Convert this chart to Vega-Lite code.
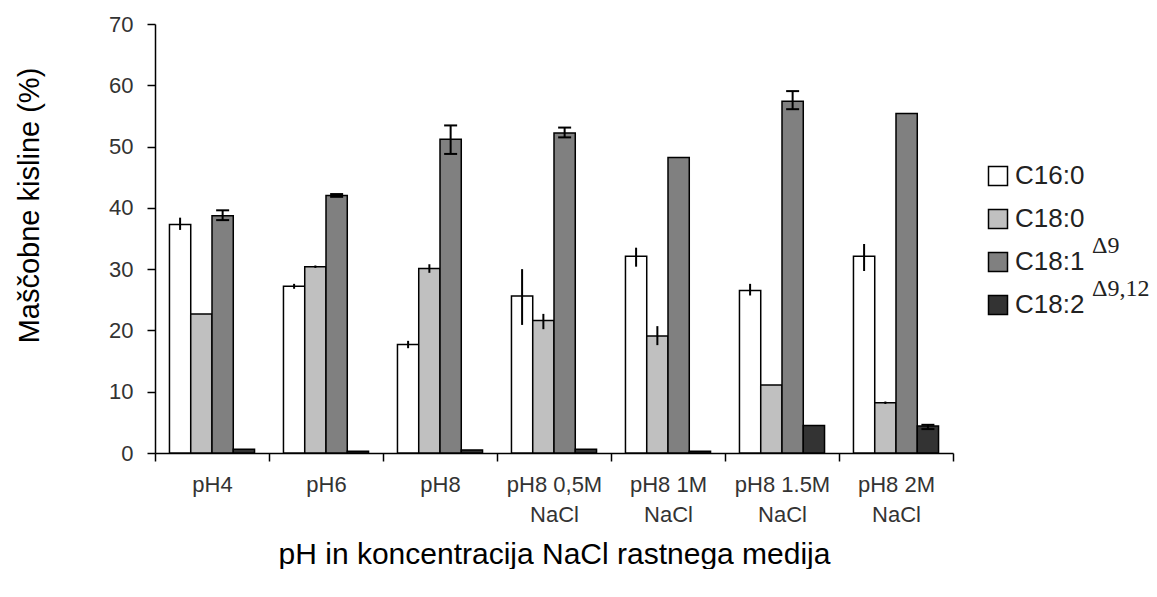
{
  "$schema": "https://vega.github.io/schema/vega-lite/v6.json",
  "padding": {"left": 14, "top": 13, "right": 0, "bottom": 0},
  "background": "white",
  "config": {"view": {"stroke": null}, "font": "Liberation Sans"},
  "datasets": {
    "fa": [
      {"cond": "pH4", "series": "C16:0", "value": 37.3, "lo": 36.4, "hi": 38.4},
      {"cond": "pH4", "series": "C18:0", "value": 22.7},
      {"cond": "pH4", "series": "C18:1", "value": 38.7, "lo": 38.0, "hi": 39.6},
      {"cond": "pH4", "series": "C18:2", "value": 0.6},
      {"cond": "pH6", "series": "C16:0", "value": 27.2, "lo": 26.8, "hi": 27.6},
      {"cond": "pH6", "series": "C18:0", "value": 30.4, "lo": 30.2, "hi": 30.6},
      {"cond": "pH6", "series": "C18:1", "value": 42.0, "lo": 41.8, "hi": 42.25},
      {"cond": "pH6", "series": "C18:2", "value": 0.3},
      {"cond": "pH8", "series": "C16:0", "value": 17.7, "lo": 17.1, "hi": 18.3},
      {"cond": "pH8", "series": "C18:0", "value": 30.1, "lo": 29.4, "hi": 30.8},
      {"cond": "pH8", "series": "C18:1", "value": 51.2, "lo": 48.8, "hi": 53.45},
      {"cond": "pH8", "series": "C18:2", "value": 0.5},
      {"cond": "pH8 0,5M NaCl", "series": "C16:0", "value": 25.6, "lo": 20.9, "hi": 30.0},
      {"cond": "pH8 0,5M NaCl", "series": "C18:0", "value": 21.6, "lo": 20.2, "hi": 22.7},
      {"cond": "pH8 0,5M NaCl", "series": "C18:1", "value": 52.2, "lo": 51.5, "hi": 53.1},
      {"cond": "pH8 0,5M NaCl", "series": "C18:2", "value": 0.6},
      {"cond": "pH8 1M NaCl", "series": "C16:0", "value": 32.1, "lo": 30.4, "hi": 33.5},
      {"cond": "pH8 1M NaCl", "series": "C18:0", "value": 19.1, "lo": 17.6, "hi": 20.7},
      {"cond": "pH8 1M NaCl", "series": "C18:1", "value": 48.2},
      {"cond": "pH8 1M NaCl", "series": "C18:2", "value": 0.3},
      {"cond": "pH8 1.5M NaCl", "series": "C16:0", "value": 26.5, "lo": 25.7, "hi": 27.6},
      {"cond": "pH8 1.5M NaCl", "series": "C18:0", "value": 11.1},
      {"cond": "pH8 1.5M NaCl", "series": "C18:1", "value": 57.4, "lo": 56.1, "hi": 59.05},
      {"cond": "pH8 1.5M NaCl", "series": "C18:2", "value": 4.5},
      {"cond": "pH8 2M NaCl", "series": "C16:0", "value": 32.1, "lo": 29.7, "hi": 34.1},
      {"cond": "pH8 2M NaCl", "series": "C18:0", "value": 8.2, "lo": 8.0, "hi": 8.4},
      {"cond": "pH8 2M NaCl", "series": "C18:1", "value": 55.4},
      {"cond": "pH8 2M NaCl", "series": "C18:2", "value": 4.4, "lo": 3.9, "hi": 4.6}
    ],
    "leg": [
      {"series": "C16:0", "sup": ""},
      {"series": "C18:0", "sup": ""},
      {"series": "C18:1", "sup": "Δ9"},
      {"series": "C18:2", "sup": "Δ9,12"}
    ]
  },
  "spacing": 31,
  "hconcat": [
    {
      "width": 798,
      "height": 429,
      "data": {"name": "fa"},
      "encoding": {
        "x": {
          "field": "cond", "type": "nominal", "sort": null,
          "scale": {"paddingInner": 0, "paddingOuter": 0},
          "title": "pH in koncentracija NaCl rastnega medija",
          "axis": {
            "labelAngle": 0,
            "labelExpr": "indexof(datum.label,' NaCl')>0 ? [replace(datum.label,' NaCl',''),'NaCl'] : datum.label",
            "labelFontSize": 22, "labelLineHeight": 30, "labelPadding": 13, "labelColor": "#333333",
            "tickBand": "extent", "tickSize": 8, "tickColor": "black", "tickWidth": 1.5,
            "domainColor": "black", "domainWidth": 1.5,
            "titleFontSize": 30, "titleFontWeight": "normal", "titleColor": "black", "titlePadding": 14
          }
        },
        "xOffset": {
          "field": "series", "type": "nominal", "sort": null,
          "scale": {"paddingInner": 0, "paddingOuter": 0.68}
        }
      },
      "layer": [
        {
          "mark": {"type": "bar", "stroke": "black", "strokeWidth": 1.5},
          "encoding": {
            "y": {
              "field": "value", "type": "quantitative",
              "scale": {"domain": [0, 70]},
              "title": "Maščobne kisline (%)",
              "axis": {
                "values": [0, 10, 20, 30, 40, 50, 60, 70], "grid": false,
                "labelFontSize": 22, "labelColor": "#333333", "labelPadding": 14,
                "tickSize": 8, "tickColor": "black", "tickWidth": 1.5,
                "domainColor": "black", "domainWidth": 1.5,
                "titleFontSize": 29, "titleFontWeight": "normal", "titleColor": "black",
                "titleX": -126, "titleY": 181, "titleBaseline": "middle"
              }
            },
            "fill": {
              "field": "series", "type": "nominal",
              "scale": {"domain": ["C16:0", "C18:0", "C18:1", "C18:2"], "range": ["#ffffff", "#c0c0c0", "#808080", "#333333"]},
              "legend": null
            }
          }
        },
        {
          "transform": [{"filter": "isValid(datum.lo)"}],
          "mark": {"type": "rule", "color": "black", "strokeWidth": 2},
          "encoding": {
            "y": {"field": "lo", "type": "quantitative", "title": "Maščobne kisline (%)"},
            "y2": {"field": "hi"}
          }
        },
        {
          "transform": [{"filter": "isValid(datum.lo) && (datum.series == 'C18:1' || datum.series == 'C18:2')"}],
          "mark": {"type": "tick", "orient": "horizontal", "size": 13, "thickness": 2, "color": "black", "opacity": 1},
          "encoding": {
            "y": {"field": "lo", "type": "quantitative", "title": "Maščobne kisline (%)"}
          }
        },
        {
          "transform": [{"filter": "isValid(datum.hi) && (datum.series == 'C18:1' || datum.series == 'C18:2')"}],
          "mark": {"type": "tick", "orient": "horizontal", "size": 13, "thickness": 2, "color": "black", "opacity": 1},
          "encoding": {
            "y": {"field": "hi", "type": "quantitative", "title": "Maščobne kisline (%)"}
          }
        }
      ]
    },
    {
      "width": 20,
      "height": 429,
      "data": {"name": "leg"},
      "encoding": {
        "y": {"field": "series", "type": "nominal", "sort": null, "scale": {"type": "point", "padding": 0, "range": [152, 281]}, "axis": null}
      },
      "layer": [
        {
          "mark": {"type": "point", "shape": "square", "filled": true, "size": 361, "stroke": "black", "strokeWidth": 1.5, "opacity": 1},
          "encoding": {
            "fill": {"field": "series", "type": "nominal", "legend": null}
          }
        },
        {
          "mark": {"type": "text", "align": "left", "baseline": "middle", "dx": 17, "fontSize": 26, "font": "Liberation Sans", "color": "#222222"},
          "encoding": {"text": {"field": "series"}}
        },
        {
          "mark": {"type": "text", "align": "left", "baseline": "middle", "dx": 94, "dy": -16, "fontSize": 24, "font": "Liberation Serif", "color": "#222222"},
          "encoding": {"text": {"field": "sup"}}
        }
      ]
    }
  ]
}
